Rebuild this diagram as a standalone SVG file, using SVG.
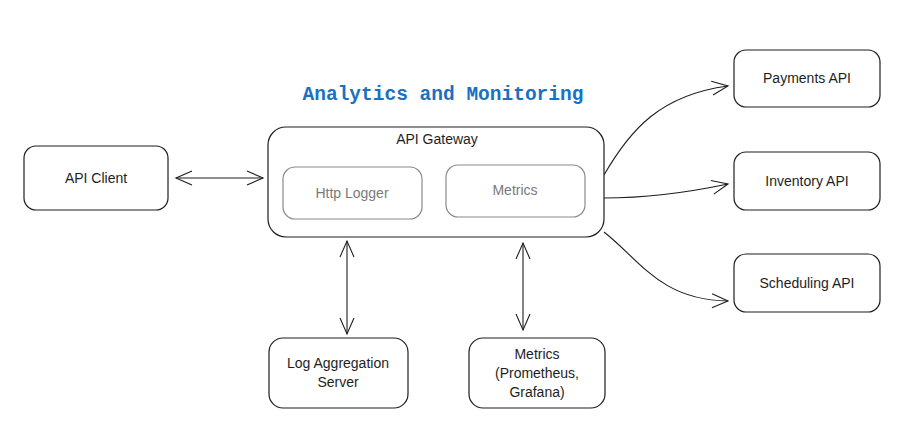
<svg xmlns="http://www.w3.org/2000/svg" width="903" height="448" viewBox="0 0 903 448">
<style>
.box{fill:#ffffff;stroke:#1e1e1e;stroke-width:1.2}
.inner{fill:#ffffff;stroke:#8a8a8a;stroke-width:1.2}
.lbl{font-family:"Liberation Sans",Arial,sans-serif;font-size:14px;fill:#1e1e1e;text-anchor:middle}
.glbl{font-family:"Liberation Sans",Arial,sans-serif;font-size:14px;fill:#7a7a7a;text-anchor:middle}
.title{font-family:"Liberation Mono","DejaVu Sans Mono",monospace;font-size:19.5px;font-weight:bold;fill:#1971c2;text-anchor:middle}
.edge{fill:none;stroke:#1e1e1e;stroke-width:1.1}
</style>
<defs>
<marker id="ah" viewBox="0 0 20 20" refX="18" refY="10" markerWidth="20" markerHeight="20" markerUnits="userSpaceOnUse" orient="auto-start-reverse">
<path d="M2,3 L18,10 L2,17" fill="none" stroke="#1e1e1e" stroke-width="1.1"/>
</marker>
</defs>
<rect width="903" height="448" fill="#ffffff"/>
<text class="title" x="443" y="100">Analytics and Monitoring</text>
<g id="edges">
<path class="edge" d="M176,178 L263,178" marker-start="url(#ah)" marker-end="url(#ah)"/>
<path class="edge" d="M347,241 L347,334" marker-start="url(#ah)" marker-end="url(#ah)"/>
<path class="edge" d="M523,243 L523,330" marker-start="url(#ah)" marker-end="url(#ah)"/>
<path class="edge" d="M604,175 C630,130 660,95 728,86" marker-end="url(#ah)"/>
<path class="edge" d="M604,198 C650,198 690,192 728,184" marker-end="url(#ah)"/>
<path class="edge" d="M604,232 C640,260 660,300 728,301" marker-end="url(#ah)"/>
</g>
<g id="api-client">
<rect class="box" x="24" y="146" width="144" height="64" rx="12"/>
<text class="lbl" x="96" y="183">API Client</text>
</g>
<g id="api-gateway">
<rect class="box" x="268" y="127" width="336" height="110" rx="18"/>
<text class="lbl" x="437" y="144">API Gateway</text>
</g>
<g id="http-logger">
<rect class="inner" x="283" y="167" width="139" height="52" rx="12"/>
<text class="glbl" x="352" y="198">Http Logger</text>
</g>
<g id="metrics-inner">
<rect class="inner" x="446" y="165" width="139" height="52" rx="12"/>
<text class="glbl" x="515" y="195">Metrics</text>
</g>
<g id="payments-api">
<rect class="box" x="734" y="50" width="146" height="57" rx="12"/>
<text class="lbl" x="807" y="83">Payments API</text>
</g>
<g id="inventory-api">
<rect class="box" x="734" y="152" width="146" height="58" rx="12"/>
<text class="lbl" x="807" y="186">Inventory API</text>
</g>
<g id="scheduling-api">
<rect class="box" x="734" y="254" width="146" height="58" rx="12"/>
<text class="lbl" x="807" y="288">Scheduling API</text>
</g>
<g id="log-aggregation">
<rect class="box" x="269" y="338" width="139" height="70" rx="14"/>
<text class="lbl" x="338" y="368">Log Aggregation</text>
<text class="lbl" x="338" y="387">Server</text>
</g>
<g id="metrics-server">
<rect class="box" x="469" y="338" width="136" height="70" rx="14"/>
<text class="lbl" x="537" y="359">Metrics</text>
<text class="lbl" x="537" y="378">(Prometheus,</text>
<text class="lbl" x="537" y="397">Grafana)</text>
</g>
</svg>
